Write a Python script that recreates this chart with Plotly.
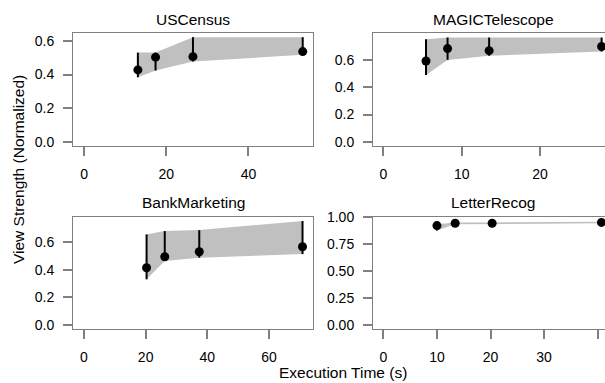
import plotly.graph_objects as go

W, H = 605, 383

datasets = ["USCensus", "MAGICTelescope", "BankMarketing", "LetterRecog"]

uscensus_time = [13.1, 17.4, 26.5, 53.2]
uscensus_mean = [0.428, 0.504, 0.507, 0.537]
uscensus_lower = [0.384, 0.424, 0.478, 0.518]
uscensus_upper = [0.531, 0.531, 0.623, 0.623]

magic_time = [5.45, 8.2, 13.5, 27.85]
magic_mean = [0.593, 0.684, 0.669, 0.699]
magic_lower = [0.490, 0.601, 0.632, 0.662]
magic_upper = [0.753, 0.765, 0.765, 0.765]

bank_time = [20.3, 26.2, 37.4, 70.9]
bank_mean = [0.415, 0.495, 0.531, 0.567]
bank_lower = [0.331, 0.464, 0.488, 0.514]
bank_upper = [0.657, 0.681, 0.688, 0.754]

letter_time = [10.0, 13.4, 20.3, 40.7]
letter_mean = [0.923, 0.945, 0.945, 0.953]
letter_lower = [0.877, 0.935, 0.940, 0.945]
letter_upper = [0.935, 0.952, 0.953, 0.958]

x_ticks = [[0, 20, 40], [0, 10, 20], [0, 20, 40, 60], [0, 10, 20, 30, 40]]
y_ticks = [[0, 0.2, 0.4, 0.6], [0, 0.2, 0.4, 0.6], [0, 0.2, 0.4, 0.6],
           [0, 0.25, 0.5, 0.75, 1.0]]
y_fmt = [".1f", ".1f", ".1f", ".2f"]

series = [
    (uscensus_time, uscensus_mean, uscensus_lower, uscensus_upper),
    (magic_time, magic_mean, magic_lower, magic_upper),
    (bank_time, bank_mean, bank_lower, bank_upper),
    (letter_time, letter_mean, letter_lower, letter_upper),
]

# layout geometry in pixels
boxes = [  # x0, x1, ytop, ybottom
    (73, 313, 33, 146),
    (373, 605, 33, 146),
    (73, 313, 217, 329),
    (373, 605, 217, 329),
]
x_ranges = [[-2.68, 55.7], [-1.31, 28.28], [-3.57, 74.3], [-1.93, 41.36]]
y_ranges = [[-0.026, 0.648], [-0.031, 0.7985], [-0.029, 0.783], [-0.037, 1.003]]
title_centers = [(193, 19), (493, 19), (193, 202.5), (493, 202.5)]

FONT = "Liberation Sans, Arial, sans-serif"
BOX = "#808080"
TICK = "#808080"

fig = go.Figure()
layout = {}
for i, (t, m, lo, up) in enumerate(series):
    sfx = "" if i == 0 else str(i + 1)
    xa, ya = "x" + sfx, "y" + sfx
    # ribbon
    fig.add_trace(go.Scatter(
        x=list(t) + list(t)[::-1], y=list(up) + list(lo)[::-1],
        xaxis=xa, yaxis=ya, mode="lines", fill="toself",
        fillcolor="#c0c0c0", line=dict(width=0, color="#c0c0c0"),
        hoverinfo="skip", showlegend=False))
    # error bars
    ex, ey = [], []
    for tt, l, u in zip(t, lo, up):
        ex += [tt, tt, None]
        ey += [l, u, None]
    fig.add_trace(go.Scatter(x=ex, y=ey, xaxis=xa, yaxis=ya, mode="lines",
                             line=dict(color="black", width=2),
                             showlegend=False, hoverinfo="skip"))
    # points
    fig.add_trace(go.Scatter(x=t, y=m, xaxis=xa, yaxis=ya, mode="markers",
                             marker=dict(color="black", size=9),
                             showlegend=False))
    x0, x1, yt, yb = boxes[i]
    right_col = i in (1, 3)
    layout["xaxis" + sfx] = dict(
        domain=[x0 / W, x1 / W], anchor=ya, range=x_ranges[i],
        tickvals=x_ticks[i], ticks="outside", ticklen=9, tickwidth=2,
        tickcolor=TICK, showline=True, linecolor=BOX, linewidth=1,
        mirror=True, showgrid=False, zeroline=False,
        tickfont=dict(size=14, color="black", family=FONT),
        ticklabelstandoff=6, automargin=False, fixedrange=True)
    layout["yaxis" + sfx] = dict(
        domain=[1 - yb / H, 1 - yt / H], anchor=xa, range=y_ranges[i],
        tickvals=y_ticks[i], tickformat=y_fmt[i], ticks="outside",
        ticklen=9, tickwidth=2, tickcolor=TICK, showline=True,
        linecolor=BOX, linewidth=1, mirror=not right_col,
        showgrid=False, zeroline=False,
        tickfont=dict(size=14, color="black", family=FONT),
        ticklabelstandoff=6, automargin=False, fixedrange=True)

annotations = []
for name, (cx, cy) in zip(datasets, title_centers):
    annotations.append(dict(text=name, x=cx / W, y=1 - cy / H, xref="paper",
                            yref="paper", showarrow=False, xanchor="center",
                            yanchor="middle",
                            font=dict(size=15.5, color="black", family=FONT)))
annotations.append(dict(text="View Strength (Normalized)", x=18 / W,
                        y=1 - 170 / H, xref="paper", yref="paper",
                        showarrow=False, textangle=-90, xanchor="center",
                        yanchor="middle",
                        font=dict(size=15.5, color="black", family=FONT)))
annotations.append(dict(text="Execution Time (s)", x=343 / W, y=1 - 372 / H,
                        xref="paper", yref="paper", showarrow=False,
                        xanchor="center", yanchor="middle",
                        font=dict(size=15.5, color="black", family=FONT)))

fig.update_layout(width=W, height=H, margin=dict(l=0, r=0, t=0, b=0),
                  paper_bgcolor="white", plot_bgcolor="white",
                  annotations=annotations, showlegend=False, **layout)

fig.write_html("out.html", config={"displayModeBar": False},
               post_script="document.body.style.margin='0';"
                           "document.body.style.overflow='hidden';")
